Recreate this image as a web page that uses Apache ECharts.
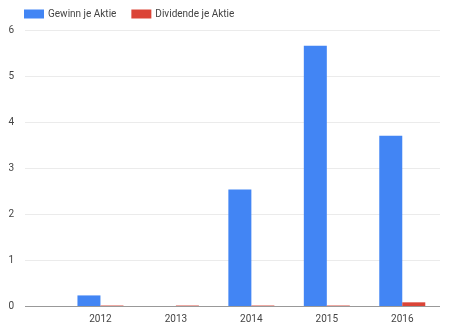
<!DOCTYPE html>
<html><head><meta charset="utf-8">
<script src="https://cdn.jsdelivr.net/npm/echarts@6/dist/echarts.min.js"></script>
<style>html,body{margin:0;padding:0;background:#fff}#c{width:449px;height:326px}</style>
</head><body><div id="c"></div>
<script>
const years = [2012, 2013, 2014, 2015, 2016];
const gewinn = [0.23, 0, 2.53, 5.66, 3.70];
const dividende = [0.01, 0.01, 0.01, 0.01, 0.08];
const seriesNames = ['Gewinn je Aktie', 'Dividende je Aktie'];
const yTicks = [0, 1, 2, 3, 4, 5, 6];

const chart = echarts.init(document.getElementById('c'));
chart.setOption({
  animation: false,
  textStyle: { fontFamily: 'Roboto, Arial, sans-serif' },
  legend: {
    left: 19, top: 4, itemWidth: 20, itemHeight: 9, itemGap: 15,
    icon: 'rect',
    textStyle: { fontSize: 10, color: '#444', padding: [0, 0, 0, -1] },
    data: seriesNames
  },
  grid: { left: 25, right: 9, top: 30, bottom: 20, containLabel: false },
  xAxis: {
    type: 'value', min: 2011, max: 2016.5, interval: 1,
    axisLine: { show: false }, axisTick: { show: false }, splitLine: { show: false },
    axisLabel: {
      fontSize: 10, color: '#444', margin: 8, showMinLabel: false, showMaxLabel: false,
      formatter: v => (years.indexOf(v) >= 0 ? String(v) : '')
    }
  },
  yAxis: {
    type: 'value', min: yTicks[0], max: yTicks[yTicks.length - 1], interval: 1,
    axisLine: { show: false }, axisTick: { show: false },
    splitLine: { lineStyle: { color: '#ebebeb', width: 1 } },
    axisLabel: { fontSize: 10, color: '#444', margin: 11 }
  },
  series: [
    {
      name: seriesNames[0], type: 'bar', barWidth: 23, barGap: '0%',
      itemStyle: { color: '#4285f4' },
      data: years.map((y, i) => [y, gewinn[i]])
    },
    {
      name: seriesNames[1], type: 'bar', barWidth: 23, barGap: '0%',
      itemStyle: { color: '#db4437' },
      data: years.map((y, i) => [y, dividende[i]]),
      markLine: {
        silent: true, symbol: 'none', label: { show: false },
        lineStyle: { color: '#999', width: 1, type: 'solid' },
        data: [{ yAxis: 0 }]
      }
    }
  ]
});
</script></body></html>
